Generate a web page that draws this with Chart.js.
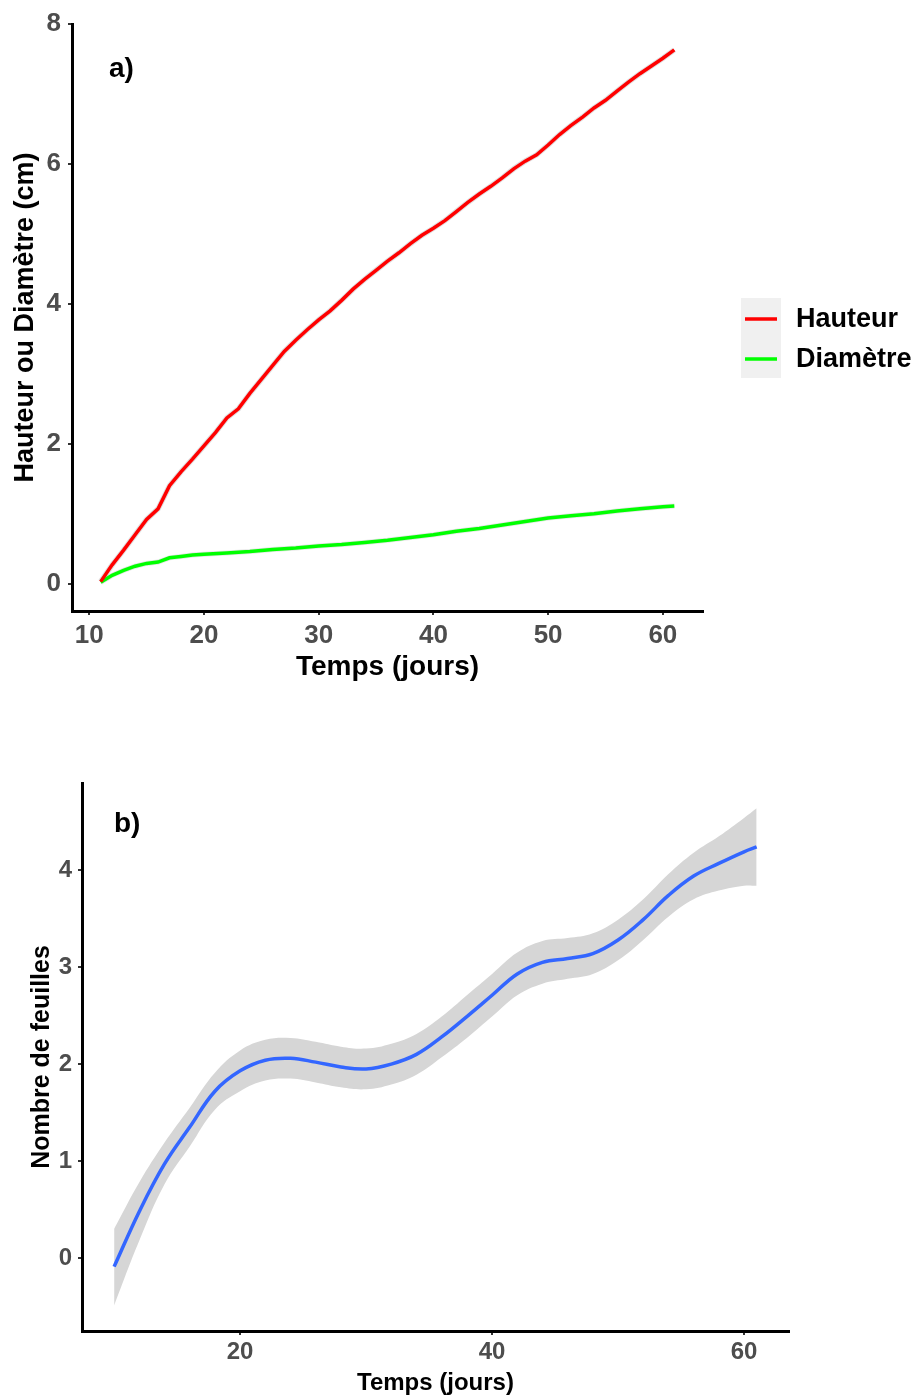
<!DOCTYPE html>
<html>
<head>
<meta charset="utf-8">
<script src="https://cdn.jsdelivr.net/npm/chart.js@4"></script>
<style>
    body { margin: 0; background: #fff; }
    canvas { position: absolute; left: 0; }
    #growthCanvas { top: 0; }
    #leavesCanvas { top: 700px; }
</style>
</head>
<body>
<canvas id="growthCanvas" width="915" height="700"></canvas>
<canvas id="leavesCanvas" width="915" height="698"></canvas>
<script>
// panel a) : hauteur et diametre (cm)
const daysHauteur = [11, 12, 13, 14, 15, 16, 17, 18, 19, 20, 21, 22, 23, 24, 25, 26, 27, 28, 29, 30,
    31, 32, 33, 34, 35, 36, 37, 38, 39, 40, 41, 42, 43, 44, 45, 46, 47, 48, 49, 50,
    51, 52, 53, 54, 55, 56, 57, 58, 59, 60, 61];
const hauteur = [0.03, 0.27, 0.48, 0.70, 0.92, 1.07, 1.40, 1.60, 1.78, 1.97, 2.16, 2.37, 2.50, 2.72, 2.92, 3.12, 3.32, 3.48, 3.63, 3.77,
    3.90, 4.05, 4.21, 4.35, 4.48, 4.61, 4.73, 4.86, 4.98, 5.08, 5.19, 5.32, 5.45, 5.57, 5.68, 5.80, 5.93, 6.04, 6.13, 6.27,
    6.42, 6.55, 6.67, 6.80, 6.91, 7.04, 7.17, 7.29, 7.40, 7.51, 7.63];
const daysDiametre = [11, 12, 13, 14, 15, 16, 17, 18, 19, 20, 22, 24, 26, 28, 30, 32, 34, 36, 38, 40,
    42, 44, 46, 48, 50, 52, 54, 56, 58, 60, 61];
const diametre = [0.02, 0.12, 0.19, 0.25, 0.29, 0.31, 0.37, 0.39, 0.41, 0.42, 0.44, 0.46, 0.49, 0.51, 0.54, 0.56, 0.59, 0.62, 0.66, 0.70,
    0.75, 0.79, 0.84, 0.89, 0.94, 0.97, 1.00, 1.04, 1.07, 1.10, 1.11];
const xTicksA = [10, 20, 30, 40, 50, 60];
const yTicksA = [0, 2, 4, 6, 8];

// panel b) : nombre de feuilles (lissage + intervalle)
const daysFeuilles = [10, 12, 14, 16, 18, 20, 22, 24, 26, 28, 30, 32, 34, 36, 38, 40, 42, 44, 46, 48, 50, 52, 54, 56, 58, 60, 61];
const feuilles = [-0.09, 0.48, 0.97, 1.35, 1.72, 1.93, 2.04, 2.06, 2.02, 1.97, 1.95, 2.00, 2.10, 2.28, 2.49, 2.71, 2.93, 3.05,
    3.09, 3.14, 3.28, 3.49, 3.74, 3.94, 4.07, 4.19, 4.24];
const feuillesHaut = [0.30, 0.78, 1.19, 1.55, 1.91, 2.14, 2.25, 2.27, 2.23, 2.18, 2.16, 2.21, 2.31, 2.49, 2.71, 2.93, 3.15, 3.27,
    3.30, 3.35, 3.49, 3.70, 3.96, 4.18, 4.35, 4.54, 4.64];
const feuillesBas = [-0.49, 0.18, 0.76, 1.15, 1.53, 1.72, 1.83, 1.85, 1.81, 1.76, 1.74, 1.79, 1.89, 2.07, 2.27, 2.49, 2.71, 2.83,
    2.88, 2.93, 3.07, 3.28, 3.52, 3.70, 3.79, 3.84, 3.84];
const xTicksB = [20, 40, 60];
const yTicksB = [0, 1, 2, 3, 4];

const FONT = '"Liberation Sans", Arial, sans-serif';

const toPoints = (xs, ys) => xs.map((x, i) => ({x: x, y: ys[i]}));

// draws the "a)" / "b)" tag inside the panel
const panelLabel = {
    id: 'panelLabel',
    afterDraw(chart, args, opts) {
        if (!opts.text) return;
        const ctx = chart.ctx;
        ctx.save();
        ctx.font = 'bold ' + opts.size + 'px ' + FONT;
        ctx.fillStyle = '#000';
        ctx.textBaseline = 'middle';
        ctx.fillText(opts.text, opts.x, opts.y);
        ctx.restore();
    }
};

// ggplot like legend on the right, grey key background
const sideLegend = {
    id: 'sideLegend',
    afterDraw(chart, args, opts) {
        if (!opts.display) return;
        const ctx = chart.ctx;
        const items = chart.data.datasets.filter(d => !d.hideInLegend);
        ctx.save();
        ctx.fillStyle = '#f0f0f0';
        ctx.fillRect(opts.x, opts.y, 40, items.length * 40);
        items.forEach((d, i) => {
            const cy = opts.y + 21 + i * 40;
            ctx.strokeStyle = d.borderColor;
            ctx.lineWidth = 3.5;
            ctx.beginPath();
            ctx.moveTo(opts.x + 4, cy);
            ctx.lineTo(opts.x + 36, cy);
            ctx.stroke();
            ctx.fillStyle = '#000';
            ctx.font = 'bold 27px ' + FONT;
            ctx.textBaseline = 'middle';
            ctx.fillText(d.label, opts.x + 55, cy + 1);
        });
        ctx.restore();
    }
};

function axisOptions(o) {
    return {
        type: 'linear',
        min: o.min,
        max: o.max,
        afterBuildTicks: scale => { scale.ticks = o.ticks.map(v => ({value: v})); },
        afterFit: scale => {
            if (o.width) scale.width = o.width;
            if (o.height) scale.height = o.height;
        },
        border: {display: true, color: '#000', width: 3},
        grid: {drawOnChartArea: false, drawTicks: true, tickLength: 4, color: '#333', lineWidth: 2},
        ticks: {
            color: '#4d4d4d',
            padding: o.tickPadding,
            font: {family: FONT, size: o.tickSize, weight: 'bold'}
        },
        title: {
            display: true,
            text: o.title,
            color: '#000',
            padding: o.titlePadding,
            font: {family: FONT, size: o.titleSize, weight: 'bold'}
        }
    };
}

document.addEventListener('DOMContentLoaded', function() {
    const GROWTH_CHART = document.getElementById('growthCanvas').getContext('2d');
    new Chart(GROWTH_CHART, {
        type: 'line',
        data: {
            datasets: [{
                label: 'Hauteur',
                data: toPoints(daysHauteur, hauteur),
                borderColor: '#ff0000',
                borderWidth: 3.5,
                pointRadius: 0,
                tension: 0
            }, {
                label: 'Diamètre',
                data: toPoints(daysDiametre, diametre),
                borderColor: '#00ff00',
                borderWidth: 3.5,
                pointRadius: 0,
                tension: 0
            }, {
                // faint grey ribbon of the smoother
                label: 'ic hauteur',
                hideInLegend: true,
                data: toPoints(daysHauteur, hauteur),
                borderColor: 'rgba(150,150,150,0.3)',
                borderWidth: 5.5,
                pointRadius: 0,
                tension: 0
            }, {
                label: 'ic diametre',
                hideInLegend: true,
                data: toPoints(daysDiametre, diametre),
                borderColor: 'rgba(150,150,150,0.25)',
                borderWidth: 5,
                pointRadius: 0,
                tension: 0
            }]
        },
        plugins: [panelLabel, sideLegend],
        options: {
            responsive: false,
            animation: false,
            layout: {padding: {left: 0, right: 212, top: 24, bottom: 0}},
            scales: {
                x: axisOptions({min: 8.5, max: 63.5, ticks: xTicksA, height: 89, tickPadding: 5,
                    tickSize: 26, title: 'Temps (jours)', titleSize: 28, titlePadding: {top: 0, bottom: 16}}),
                y: axisOptions({min: -0.39, max: 8.0, ticks: yTicksA, width: 72, tickPadding: 7,
                    tickSize: 26, title: 'Hauteur ou Diamètre (cm)', titleSize: 27, titlePadding: {top: 9, bottom: 0}})
            },
            plugins: {
                legend: {display: false},
                tooltip: {enabled: false},
                panelLabel: {text: 'a)', x: 109, y: 69, size: 28},
                sideLegend: {display: true, x: 741, y: 298}
            }
        }
    });

    const LEAVES_CHART = document.getElementById('leavesCanvas').getContext('2d');
    new Chart(LEAVES_CHART, {
        type: 'line',
        data: {
            datasets: [{
                label: 'Nombre de feuilles',
                data: toPoints(daysFeuilles, feuilles),
                borderColor: '#3366ff',
                borderWidth: 3.5,
                pointRadius: 0,
                tension: 0.4
            }, {
                label: 'borne haute',
                data: toPoints(daysFeuilles, feuillesHaut),
                borderWidth: 0,
                borderColor: 'rgba(0,0,0,0)',
                backgroundColor: '#d6d6d6',
                pointRadius: 0,
                tension: 0.4,
                fill: '+1'
            }, {
                label: 'borne basse',
                data: toPoints(daysFeuilles, feuillesBas),
                borderWidth: 0,
                borderColor: 'rgba(0,0,0,0)',
                pointRadius: 0,
                tension: 0.4,
                fill: false
            }]
        },
        plugins: [panelLabel],
        options: {
            responsive: false,
            animation: false,
            layout: {padding: {left: 0, right: 126, top: 83, bottom: 0}},
            scales: {
                x: axisOptions({min: 7.45, max: 63.57, ticks: xTicksB, height: 67, tickPadding: 3,
                    tickSize: 24, title: 'Temps (jours)', titleSize: 24, titlePadding: {top: 0, bottom: 0}}),
                y: axisOptions({min: -0.754, max: 4.9, ticks: yTicksB, width: 82, tickPadding: 6,
                    tickSize: 24, title: 'Nombre de feuilles', titleSize: 25, titlePadding: {top: 27, bottom: 0}})
            },
            plugins: {
                legend: {display: false},
                tooltip: {enabled: false},
                panelLabel: {text: 'b)', x: 114, y: 124, size: 28}
            }
        }
    });
});
</script>
</body>
</html>
